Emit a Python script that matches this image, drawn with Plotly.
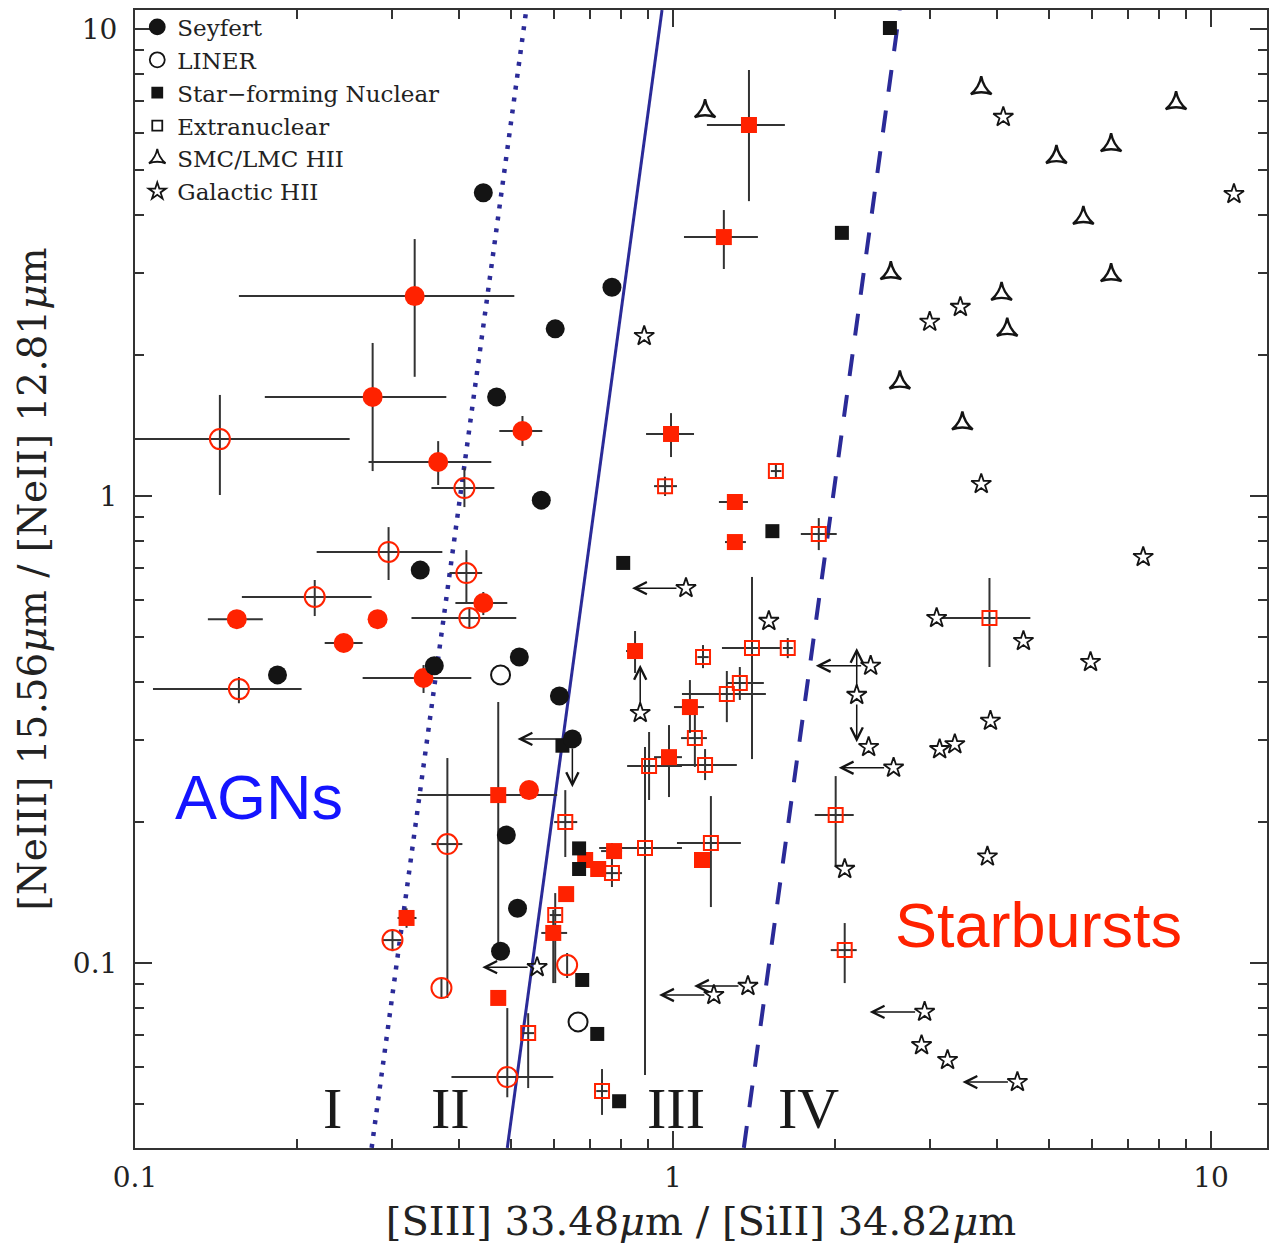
import numpy as np
import plotly.graph_objects as go

# ---------------- data ----------------
# literature (black) points
sey_x = [0.444, 0.770, 0.604, 0.470, 0.569, 0.339, 0.360, 0.518, 0.184, 0.615, 0.650, 0.490, 0.514, 0.478]
sey_y = [4.46, 2.80, 2.28, 1.63, 0.980, 0.694, 0.433, 0.452, 0.414, 0.373, 0.302, 0.188, 0.131, 0.106]

liner_x = [0.478, 0.666]
liner_y = [0.414, 0.0748]

sfn_x = [2.53, 2.06, 1.53, 0.808, 0.623, 0.669, 0.669, 0.678, 0.723, 0.794]
sfn_y = [10.05, 3.66, 0.841, 0.719, 0.292, 0.176, 0.159, 0.092, 0.0705, 0.0506]

smc_x = [1.147, 3.74, 8.61, 6.52, 5.16, 5.79, 2.54, 6.52, 4.08, 4.18, 2.64, 3.45]
smc_y = [6.67, 7.47, 6.94, 5.64, 5.32, 3.94, 3.00, 2.97, 2.71, 2.27, 1.75, 1.43]

gal_x = [4.11, 11.03, 0.884, 3.42, 3.00, 3.74, 7.48, 1.057, 1.507, 3.09, 4.48, 2.33, 2.195, 2.31, 5.97,
         0.869, 3.89, 3.13, 3.34, 2.57, 3.84, 2.085, 0.559, 1.191, 1.378, 2.935, 2.897, 3.238, 4.366]
gal_y = [6.48, 4.43, 2.20, 2.54, 2.36, 1.061, 0.740, 0.635, 0.540, 0.548, 0.489, 0.433, 0.375, 0.290, 0.441,
         0.343, 0.330, 0.287, 0.294, 0.262, 0.169, 0.159, 0.098, 0.0854, 0.0893, 0.0786, 0.0667, 0.0620, 0.0556]

# limit arrows: from (lim_x0, lim_y0) to (lim_x1, lim_y1)
lim_x0 = [1.057, 2.33, 2.57, 0.559, 1.191, 1.378, 2.935, 4.366, 2.195, 2.195, 0.869, 0.650, 0.650]
lim_y0 = [0.635, 0.433, 0.262, 0.098, 0.0854, 0.0893, 0.0786, 0.0556, 0.375, 0.375, 0.343, 0.302, 0.302]
lim_x1 = [0.839, 1.842, 2.032, 0.442, 0.942, 1.094, 2.32, 3.451, 2.195, 2.195, 0.869, 0.514, 0.650]
lim_y1 = [0.635, 0.433, 0.262, 0.098, 0.0854, 0.0893, 0.0786, 0.0556, 0.473, 0.297, 0.435, 0.302, 0.238]

# this work (red) points with error bar ends
seyr_x = [0.331, 0.2765, 0.366, 0.525, 0.1546, 0.2443, 0.2824, 0.444, 0.3438, 0.540]
seyr_y = [2.68, 1.63, 1.183, 1.378, 0.545, 0.4845, 0.545, 0.590, 0.4077, 0.2346]
seyr_xlo = [0.156, 0.1743, 0.2717, 0.4755, 0.1366, 0.2252, None, 0.394, 0.2649, None]
seyr_xhi = [0.507, 0.379, 0.4595, 0.5715, 0.1728, 0.2649, None, 0.492, 0.4218, None]
seyr_ylo = [1.80, 1.131, 1.056, 1.280, None, None, None, 0.556, 0.3787, None]
seyr_yhi = [3.55, 2.127, 1.311, 1.484, None, None, None, 0.623, 0.4346, None]

linr_x = [0.1438, 0.4095, 0.296, 0.413, 0.2158, 0.4183, 0.156, 0.3807, 0.301, 0.3712, 0.6356, 0.492]
linr_y = [1.324, 1.040, 0.759, 0.684, 0.608, 0.548, 0.386, 0.1798, 0.112, 0.0884, 0.099, 0.057]
linr_xlo = [0.095, 0.3556, 0.2176, 0.3841, 0.158, 0.3265, 0.108, 0.3556, 0.2885, None, None, 0.3874]
linr_xhi = [0.2506, 0.4655, 0.3726, 0.4419, 0.2753, 0.5113, 0.204, 0.406, 0.313, None, None, 0.599]
linr_ylo = [1.005, 0.947, 0.661, 0.593, 0.5534, 0.5218, 0.360, 0.0842, 0.106, 0.0842, 0.0929, 0.0516]
linr_yhi = [1.646, 1.148, 0.858, 0.766, 0.661, 0.5756, 0.4097, 0.2748, 0.118, 0.0929, 0.1051, 0.0801]

sfnr_x = [1.384, 1.243, 0.9915, 1.303, 1.303, 0.850, 1.075, 0.983, 0.4733, 0.3197, 0.633, 0.599, 0.4733,
          0.6866, 0.726, 0.777, 1.132]
sfnr_y = [6.23, 3.585, 1.358, 0.971, 0.797, 0.4657, 0.3533, 0.276, 0.2289, 0.1249, 0.1405, 0.116, 0.0842,
          0.1662, 0.159, 0.1737, 0.1662]
sfnr_xlo = [1.156, 1.048, 0.891, 1.217, 1.249, 0.818, 1.004, 0.922, 0.335, 0.3076, None, 0.569, None,
            None, None, 0.735, None]
sfnr_xhi = [1.614, 1.438, 1.094, 1.378, 1.366, 0.876, 1.142, 1.039, 0.609, 0.3336, None, 0.6356, None,
            None, None, 0.804, None]
sfnr_ylo = [4.28, 3.063, 1.212, None, None, 0.418, 0.311, 0.2267, 0.1056, 0.119, None, 0.0906, None,
            None, None, None, None]
sfnr_yhi = [8.17, 4.096, 1.505, None, None, 0.514, 0.4036, 0.3233, 0.3622, 0.131, None, 0.13, None,
            None, None, None, None]

extr_x = [1.553, 0.9665, 1.866, 3.874, 1.402, 1.634, 1.137, 1.331, 1.259, 1.098, 1.147, 0.9026, 0.6306,
          0.887, 1.176, 0.770, 0.604, 0.538, 0.738, 2.006, 2.085]
extr_y = [1.131, 1.050, 0.829, 0.548, 0.4727, 0.4727, 0.452, 0.3978, 0.3767, 0.3032, 0.2655, 0.2642, 0.2004,
          0.1764, 0.1807, 0.1558, 0.1267, 0.0708, 0.0532, 0.2074, 0.1066]
extr_xlo = [1.52, 0.922, 1.728, 3.157, 1.233, 1.60, 1.11, 1.259, 1.039, 1.035, 1.013, 0.8217, 0.6013,
            0.729, 1.017, 0.735, 0.59, 0.525, 0.72, 1.834, 1.964]
extr_xhi = [1.59, 1.017, 2.015, 4.615, 1.586, 1.67, 1.165, 1.475, 1.488, 1.156, 1.314, 1.039, 0.6637,
            1.039, 1.337, 0.804, 0.62, 0.552, 0.756, 2.167, 2.195]
extr_ylo = [1.09, 1.0, 0.766, 0.4304, 0.2734, 0.4497, 0.428, 0.3659, 0.328, 0.263, 0.2465, 0.2234, 0.1687,
            0.0576, 0.1318, 0.1455, 0.0906, 0.054, 0.0473, 0.1622, 0.0906]
extr_yhi = [1.17, 1.10, 0.897, 0.6675, 0.671, 0.4966, 0.4797, 0.4304, 0.422, 0.3533, 0.2872, 0.3124, 0.2346,
            0.290, 0.2278, 0.1807, 0.1412, 0.0781, 0.0593, 0.2514, 0.1218]

# dividing lines (x at bottom and top of frame)
div_y = [0.0402, 10.98]
dotted_x = [0.2753, 0.5336]
solid_x = [0.492, 0.954]
dashed_x = [1.354, 2.638]

# region labels
reg_text = ["I", "II", "III", "IV"]
reg_x = [0.2329, 0.3858, 1.013, 1.788]
reg_y = [0.0489, 0.0489, 0.0489, 0.0489]

x_ticks = [0.1, 1, 10]
x_ticktext = ["0.1", "1", "10"]
y_ticks = [0.1, 1, 10]
y_ticktext = ["0.1", "1", "10"]

# ---------------- figure ----------------
RED = "#ff2200"
BLK = "#141414"
EBC = "#333333"
LINEC = "#2b2b98"
SERIF = "DejaVu Serif"


def errs(v, lo, hi):
    plus = [(h - c) if h is not None else 0 for c, h in zip(v, hi)]
    minus = [(c - l) if l is not None else 0 for c, l in zip(v, lo)]
    return plus, minus


fig = go.Figure()

# dividing lines
for xs, dash, w in [(dotted_x, "4px,8px", 4.5), (solid_x, "solid", 3), (dashed_x, "22px,19px", 4)]:
    fig.add_trace(go.Scatter(x=xs, y=div_y, mode="lines", showlegend=False, hoverinfo="skip",
                             line=dict(color=LINEC, width=w, dash=dash)))


def red_trace(x, y, xlo, xhi, ylo, yhi, symbol, size):
    xp, xm = errs(x, xlo, xhi)
    yp, ym = errs(y, ylo, yhi)
    open_ = symbol.endswith("open")
    return go.Scatter(
        x=x, y=y, mode="markers", showlegend=False,
        marker=dict(symbol=symbol, size=size, color=RED,
                    line=dict(color=RED, width=2 if open_ else 0)),
        error_x=dict(type="data", array=xp, arrayminus=xm, symmetric=False, width=0,
                     color=EBC, thickness=2),
        error_y=dict(type="data", array=yp, arrayminus=ym, symmetric=False, width=0,
                     color=EBC, thickness=2),
    )


fig.add_trace(red_trace(extr_x, extr_y, extr_xlo, extr_xhi, extr_ylo, extr_yhi, "square-open", 14))
fig.add_trace(red_trace(sfnr_x, sfnr_y, sfnr_xlo, sfnr_xhi, sfnr_ylo, sfnr_yhi, "square", 16))
fig.add_trace(red_trace(linr_x, linr_y, linr_xlo, linr_xhi, linr_ylo, linr_yhi, "circle-open", 20))
fig.add_trace(red_trace(seyr_x, seyr_y, seyr_xlo, seyr_xhi, seyr_ylo, seyr_yhi, "circle", 20))

# black literature points
fig.add_trace(go.Scatter(x=sfn_x, y=sfn_y, mode="markers", showlegend=False,
                         marker=dict(symbol="square", size=14, color=BLK)))
fig.add_trace(go.Scatter(x=sey_x, y=sey_y, mode="markers", showlegend=False,
                         marker=dict(symbol="circle", size=19, color=BLK)))
fig.add_trace(go.Scatter(x=liner_x, y=liner_y, mode="markers", showlegend=False,
                         marker=dict(symbol="circle-open", size=19, color=BLK, line=dict(width=2))))
fig.add_trace(go.Scatter(x=smc_x, y=smc_y, mode="markers", showlegend=False,
                         marker=dict(symbol="star-triangle-up-open", size=15, color=BLK, line=dict(width=2.4))))
fig.add_trace(go.Scatter(x=gal_x, y=gal_y, mode="markers", showlegend=False,
                         marker=dict(symbol="star-open", size=15, color=BLK, line=dict(width=1.8))))

# legend-only entries
leg = [("Seyfert", "circle", 15), ("LINER", "circle-open", 15), ("Star\u2212forming Nuclear", "square", 10),
       ("Extranuclear", "square-open", 10), ("SMC/LMC HII", "star-triangle-up-open", 12),
       ("Galactic HII", "star-open", 13)]
for name, sym, sz in leg:
    fig.add_trace(go.Scatter(x=[None], y=[None], mode="markers", name=name,
                             marker=dict(symbol=sym, size=sz, color=BLK, line=dict(width=1.8, color=BLK))))

# limit arrows
for x0, y0, x1, y1 in zip(lim_x0, lim_y0, lim_x1, lim_y1):
    fig.add_annotation(x=np.log10(x1), y=np.log10(y1), ax=np.log10(x0), ay=np.log10(y0),
                       xref="x", yref="y", axref="x", ayref="y", text="", showarrow=True,
                       arrowhead=5, arrowsize=1.6, arrowwidth=1.5, arrowcolor=BLK, startstandoff=8)

# region labels
for t, xv, yv in zip(reg_text, reg_x, reg_y):
    fig.add_annotation(x=np.log10(xv), y=np.log10(yv), text=t, showarrow=False,
                       font=dict(family="Liberation Serif", size=58, color="#1a1a1a"))

fig.add_annotation(x=np.log10(0.1699), y=np.log10(0.2267), text="AGNs", showarrow=False,
                   font=dict(family="Liberation Sans", size=63, color="#1414ff"))
fig.add_annotation(x=np.log10(4.775), y=np.log10(0.1206), text="Starbursts", showarrow=False,
                   font=dict(family="Liberation Sans", size=63, color=RED))

minor_x = [v * m for v in (0.1, 1, 10) for m in range(2, 10)]
minor_y = [v * m for v in (0.01, 0.1, 1, 10) for m in range(2, 10)]

axis_common = dict(type="log", showgrid=False, zeroline=False, showline=True, linecolor="#333",
                   linewidth=2, mirror="ticks", ticks="inside", ticklen=17, tickwidth=2, tickcolor="#333",
                   tickfont=dict(family=SERIF, size=28, color="#222"))

fig.update_xaxes(**axis_common, range=[-1, 1.104], tickmode="array", tickvals=x_ticks, ticktext=x_ticktext,
                 ticklabelstandoff=3,
                 minor=dict(tickmode="array", tickvals=minor_x, ticks="inside", ticklen=9, tickwidth=2,
                            tickcolor="#333", showgrid=False),
                 title=dict(text="[SIII] 33.48<i>\u03bc</i>m / [SiII] 34.82<i>\u03bc</i>m",
                            font=dict(family=SERIF, size=40, color="#222"), standoff=14))
fig.update_yaxes(**axis_common, range=[-1.396, 1.0407], tickmode="array", tickvals=y_ticks, ticktext=y_ticktext,
                 ticklabelstandoff=10,
                 minor=dict(tickmode="array", tickvals=minor_y, ticks="inside", ticklen=9, tickwidth=2,
                            tickcolor="#333", showgrid=False),
                 title=dict(text="[NeIII] 15.56<i>\u03bc</i>m / [NeII] 12.81<i>\u03bc</i>m",
                            font=dict(family=SERIF, size=39, color="#222"), standoff=14))

fig.update_layout(
    width=1269, height=1245, margin=dict(l=135, r=0, t=10, b=97),
    paper_bgcolor="white", plot_bgcolor="white",
    legend=dict(x=0.002, y=1.004, xanchor="left", yanchor="top", bgcolor="rgba(0,0,0,0)",
                font=dict(family=SERIF, size=23, color="#222"), tracegroupgap=0, itemsizing="trace"),
    showlegend=True,
)

fig.write_html("out.html")
